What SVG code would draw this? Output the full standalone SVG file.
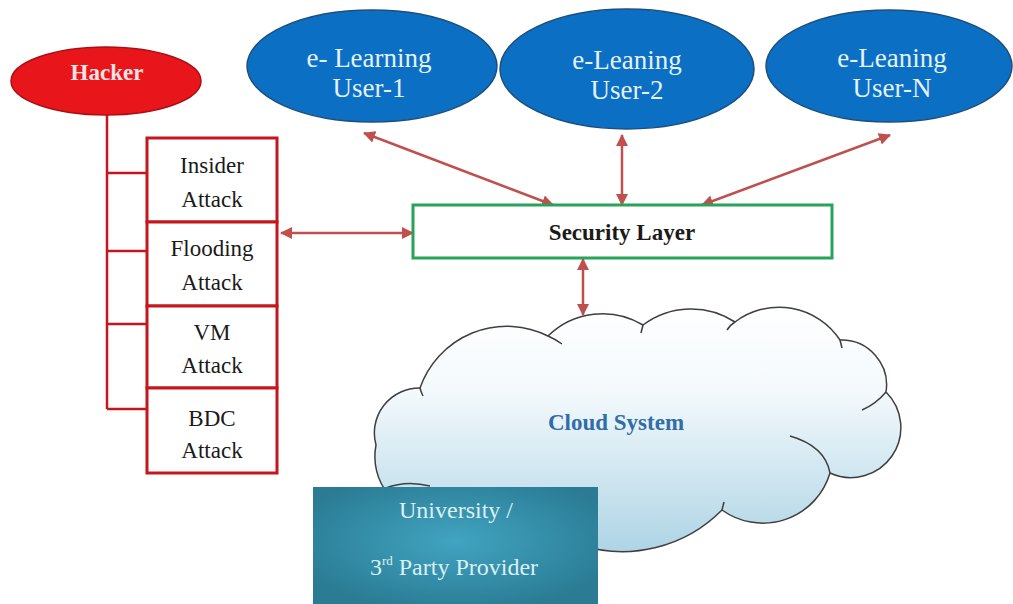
<svg xmlns="http://www.w3.org/2000/svg" width="1013" height="604" viewBox="0 0 1013 604">
  <style>
    .serif { font-family: "Liberation Serif", "Times New Roman", serif; }
    .user { fill: #0b6fc3; stroke: #1d4f7e; stroke-width: 1.5; }
    .utext { fill: #e4f1ff; font-size: 27px; text-anchor: middle; }
    .atk { fill: #ffffff; stroke: #c4161c; stroke-width: 3; }
    .atext { fill: #1a1a1a; font-size: 23px; text-anchor: middle; }
    .conn { stroke: #c0504d; stroke-width: 2.5; fill: none; marker-start: url(#ah); marker-end: url(#ah); }
    .tree { stroke: #c4161c; stroke-width: 2.5; fill: none; }
    .tail { fill: none; stroke: #3f3f3f; stroke-width: 1.5; }
  </style>
  <defs>
    <marker id="ah" viewBox="0 0 12 12" refX="11" refY="6" markerWidth="12" markerHeight="12" markerUnits="userSpaceOnUse" orient="auto-start-reverse">
      <path d="M0,0 L12,6 L0,12 z" fill="#c0504d"/>
    </marker>
    <linearGradient id="cloudGrad" x1="0" y1="0" x2="0" y2="1">
      <stop offset="0" stop-color="#ffffff"/>
      <stop offset="0.35" stop-color="#f3f9fc"/>
      <stop offset="1" stop-color="#aed4e5"/>
    </linearGradient>
    <radialGradient id="uniGrad" cx="0.5" cy="0.45" r="0.6">
      <stop offset="0" stop-color="#41a4c1"/>
      <stop offset="1" stop-color="#2a7b93"/>
    </radialGradient>
  </defs>

  <rect x="0" y="0" width="1013" height="604" fill="#ffffff"/>

  <!-- Connectors -->
  <g id="connectors">
    <path class="tree" d="M107,115 V409"/>
    <path class="tree" stroke="#7d1d1d" d="M107,173 H147"/>
    <path class="tree" stroke="#7d1d1d" d="M107,251 H147"/>
    <path class="tree" d="M107,324 H147"/>
    <path class="tree" d="M107,409 H147"/>
    <line class="conn" x1="364" y1="133" x2="553" y2="205"/>
    <line class="conn" x1="622" y1="135" x2="622" y2="205"/>
    <line class="conn" x1="890" y1="135" x2="702" y2="205" stroke-width="1.6"/>
    <line class="conn" x1="281" y1="233" x2="413" y2="233"/>
    <line class="conn" x1="583" y1="259" x2="583" y2="315"/>
  </g>

  <!-- Cloud -->
  <g id="cloud">
    <path d="M388,494 A60,60 0 0 1 376,445 A45,45 0 0 1 420,388 A92,92 0 0 1 548,336 A78,78 0 0 1 643,325 A80,80 0 0 1 735,322 A73,73 0 0 1 840,340 A45,45 0 0 1 886,392 A50,50 0 0 1 830,473 A70,70 0 0 1 722,510 A140,140 0 0 1 580,545 L388,494 Z" fill="url(#cloudGrad)" stroke="#3f3f3f" stroke-width="1.5"/>
    <path class="tail" d="M420,388 Q421,392 423,396"/>
    <path class="tail" d="M548,336 Q555,339 562,344"/>
    <path class="tail" d="M643,325 Q642,329 641,333"/>
    <path class="tail" d="M735,322 Q730,325 727,330"/>
    <path class="tail" d="M840,340 Q841,344 842,348"/>
    <path class="tail" d="M886,392 Q876,404 862,410"/>
    <path class="tail" d="M830,473 Q825,446 790,436"/>
    <path class="tail" d="M722,510 Q723,506 724,502"/>
    <path class="tail" d="M386,488 Q406,480 430,486"/>
    <text class="serif" x="616" y="430" font-size="23" font-weight="bold" fill="#2f6ea8" text-anchor="middle">Cloud System</text>
  </g>

  <!-- Hacker -->
  <g id="hacker">
    <ellipse cx="106" cy="81" rx="95" ry="34" fill="#e8151b" stroke="#a90f14" stroke-width="1.5"/>
    <text class="serif" x="107" y="80" font-size="23" font-weight="bold" fill="#fbe3e3" text-anchor="middle">Hacker</text>
  </g>

  <!-- Attack boxes -->
  <g id="insider-attack">
    <rect class="atk" x="147" y="138" width="130" height="84"/>
    <text class="serif atext" x="212" y="173">Insider</text>
    <text class="serif atext" x="212" y="207">Attack</text>
  </g>
  <g id="flooding-attack">
    <rect class="atk" x="147" y="222" width="130" height="84"/>
    <text class="serif atext" x="212" y="256">Flooding</text>
    <text class="serif atext" x="212" y="290">Attack</text>
  </g>
  <g id="vm-attack">
    <rect class="atk" x="147" y="306" width="130" height="82"/>
    <text class="serif atext" x="212" y="340">VM</text>
    <text class="serif atext" x="212" y="373">Attack</text>
  </g>
  <g id="bdc-attack">
    <rect class="atk" x="147" y="388" width="130" height="85"/>
    <text class="serif atext" x="212" y="426">BDC</text>
    <text class="serif atext" x="212" y="458">Attack</text>
  </g>

  <!-- Users -->
  <g id="user-1">
    <ellipse class="user" cx="372" cy="66" rx="125" ry="56"/>
    <text class="serif utext" x="369" y="67">e- Learning</text>
    <text class="serif utext" x="369" y="97">User-1</text>
  </g>
  <g id="user-2">
    <ellipse class="user" cx="627" cy="69" rx="127" ry="60"/>
    <text class="serif utext" x="627" y="69">e-Leaning</text>
    <text class="serif utext" x="627" y="99">User-2</text>
  </g>
  <g id="user-n">
    <ellipse class="user" cx="889" cy="66" rx="123" ry="56"/>
    <text class="serif utext" x="892" y="67">e-Leaning</text>
    <text class="serif utext" x="892" y="97">User-N</text>
  </g>

  <!-- Security Layer -->
  <g id="security-layer">
    <rect x="413" y="205" width="419" height="53" fill="#ffffff" stroke="#27a35a" stroke-width="3"/>
    <text class="serif" x="622" y="240" font-size="23" font-weight="bold" fill="#1a1a1a" text-anchor="middle">Security Layer</text>
  </g>

  <!-- University -->
  <g id="university">
    <rect x="313" y="487" width="285" height="120" fill="url(#uniGrad)"/>
    <text class="serif" x="456" y="518" font-size="24" fill="#dceff5" text-anchor="middle">University /</text>
    <text class="serif" x="454" y="575" font-size="24" fill="#dceff5" text-anchor="middle">3<tspan font-size="13" dy="-10">rd</tspan><tspan dy="10"> Party Provider</tspan></text>
  </g>
</svg>
